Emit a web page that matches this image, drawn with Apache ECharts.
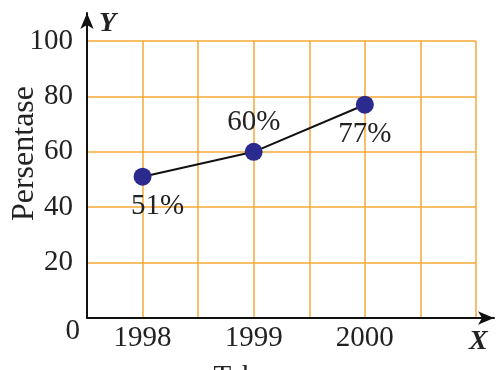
<!DOCTYPE html>
<html>
<head>
<meta charset="utf-8">
<script src="https://cdn.jsdelivr.net/npm/echarts@6/dist/echarts.min.js"></script>
<style>
  html, body { margin: 0; padding: 0; background: #fff; }
  #chart { width: 496px; height: 370px; }
</style>
</head>
<body>
<div id="chart"></div>
<script>
// Percentage per year
const years = ['1998', '1999', '2000'];
const percent = [51, 60, 77];
const yTicks = [0, 20, 40, 60, 80, 100];

const SERIF = "'Liberation Serif', 'Times New Roman', 'DejaVu Serif', serif";
const GRID_COLOR = '#F6A939';
const TEXT_COLOR = '#222';

// Years sit on every second gridline; the grid has 7 columns in total.
const categories = [''];
const seriesData = [null];
years.forEach((y, i) => {
  categories.push(y, '');
  seriesData.push(percent[i], null);
});
categories.push('');
seriesData.push(null);

// Which side of each point its percentage label sits on
const labelSide = ['bottom', 'top', 'bottom'];
let k = 0;
const points = seriesData.map(v => {
  if (v === null) return null;
  const side = labelSide[k++];
  return {
    value: v,
    label: {
      position: side,
      offset: k === 1 ? [15, 0] : [0, 0]
    }
  };
});

const chart = echarts.init(document.getElementById('chart'), null, { renderer: 'canvas' });

chart.setOption({
  animation: false,
  backgroundColor: '#fff',
  grid: [
    { left: 87, right: 20, top: 41, bottom: 52, containLabel: false, outerBoundsMode: 'none' },
    { left: 87, right: 2, top: 13, bottom: 52, containLabel: false, outerBoundsMode: 'none' }
  ],
  xAxis: [
    {
      gridIndex: 0,
      type: 'category',
      data: categories,
      boundaryGap: false,
      axisLine: { show: false },
      axisTick: { show: false },
      axisLabel: {
        interval: 0, margin: 6,
        fontFamily: SERIF, fontSize: 29, color: TEXT_COLOR
      },
      splitLine: { show: true, interval: 0, lineStyle: { color: GRID_COLOR, width: 1.5 } },
      name: 'Tahun',
      nameLocation: 'middle',
      nameGap: 45,
      nameMoveOverlap: false,
      nameTextStyle: { fontFamily: SERIF, fontSize: 29, color: TEXT_COLOR, padding: [0, 64, 0, 0] }
    },
    {
      gridIndex: 1,
      type: 'value', min: 0, max: 1,
      axisLine: { show: true, symbol: ['none', 'arrow'], symbolSize: [10, 16],
        lineStyle: { color: '#111', width: 2 } },
      axisTick: { show: false },
      axisLabel: { show: false },
      splitLine: { show: false },
      name: 'X',
      nameLocation: 'end',
      nameGap: -25,
      nameMoveOverlap: false,
      nameTextStyle: { fontFamily: SERIF, fontSize: 28, fontStyle: 'italic', fontWeight: 'bold',
        color: TEXT_COLOR, align: 'left', verticalAlign: 'top', padding: [10, 0, 0, 0] }
    }
  ],
  yAxis: [
    {
      gridIndex: 0,
      type: 'value', min: yTicks[0], max: yTicks[yTicks.length - 1], interval: yTicks[1] - yTicks[0],
      axisLine: { show: false },
      axisTick: { show: false },
      axisLabel: {
        margin: 7,
        fontFamily: SERIF, fontSize: 29, color: TEXT_COLOR,
        // the origin "0" sits lower and closer to the axis than the other ticks
        formatter: v => (v === 0 ? '{o|0}' : '{n|' + v + '}'),
        rich: {
          n: { fontFamily: SERIF, fontSize: 29, color: TEXT_COLOR, padding: [0, 7, 0, 0] },
          o: { fontFamily: SERIF, fontSize: 29, color: TEXT_COLOR, padding: [26, 0, 0, 0] }
        }
      },
      splitLine: { show: true, lineStyle: { color: GRID_COLOR, width: 1.5 } },
      name: 'Persentase',
      nameLocation: 'middle',
      nameGap: 46,
      nameMoveOverlap: false,
      nameTextStyle: { fontFamily: SERIF, fontSize: 32, color: TEXT_COLOR, padding: [0, 0, 0, 52] }
    },
    {
      gridIndex: 1,
      type: 'value', min: 0, max: 1,
      axisLine: { show: true, symbol: ['none', 'arrow'], symbolSize: [10, 16],
        lineStyle: { color: '#111', width: 2 } },
      axisTick: { show: false },
      axisLabel: { show: false },
      splitLine: { show: false },
      name: 'Y',
      nameLocation: 'end',
      nameGap: -25,
      nameMoveOverlap: false,
      nameTextStyle: { fontFamily: SERIF, fontSize: 28, fontStyle: 'italic', fontWeight: 'bold',
        color: TEXT_COLOR, align: 'left', verticalAlign: 'bottom', padding: [0, 0, 0, 12] }
    }
  ],
  series: [
    {
      type: 'line',
      xAxisIndex: 0, yAxisIndex: 0,
      data: points,
      connectNulls: true,
      symbol: 'circle',
      symbolSize: 18,
      itemStyle: { color: '#2B2A8E' },
      lineStyle: { color: '#111', width: 2 },
      label: {
        show: true,
        distance: 6,
        formatter: p => p.value + '%',
        fontFamily: SERIF, fontSize: 29, color: TEXT_COLOR
      }
    }
  ]
});
</script>
</body>
</html>
